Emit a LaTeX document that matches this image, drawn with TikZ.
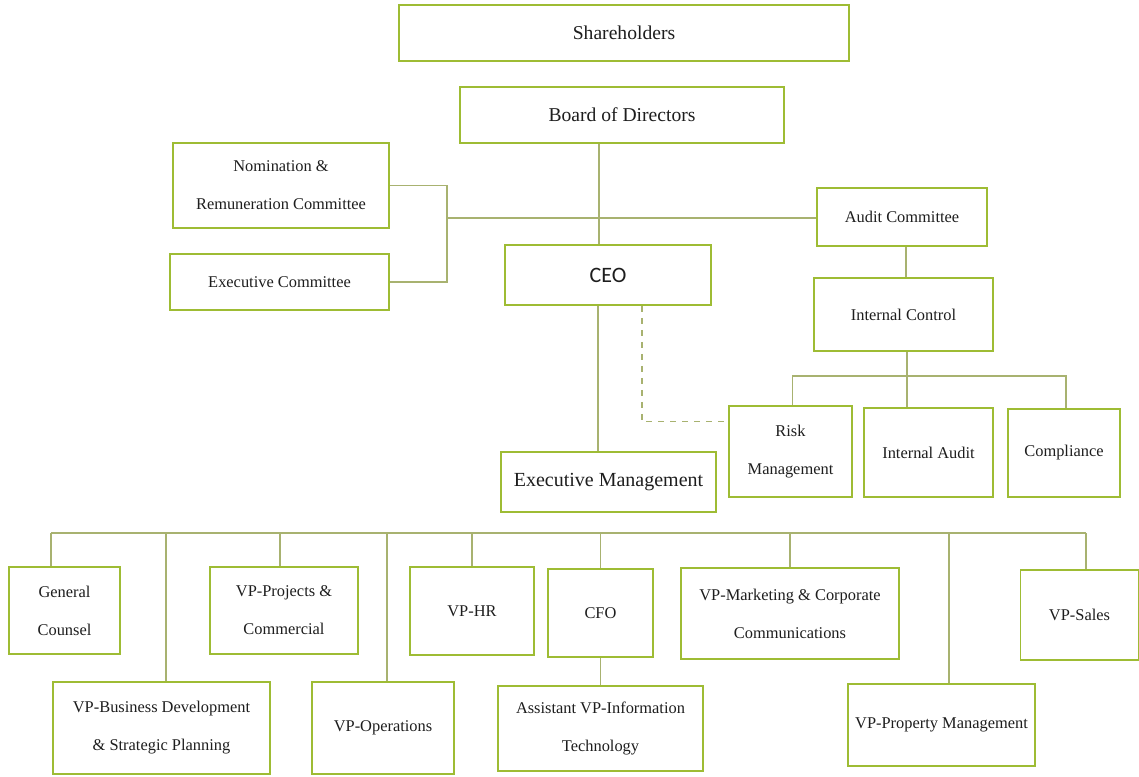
\documentclass[tikz,border=0pt]{standalone}
\usepackage{fontspec}
\setmainfont{Liberation Serif}
\newfontfamily\ceofont{Carlito}
\usepackage{tikz}

\definecolor{boxgreen}{RGB}{158,188,52}
\definecolor{lineolive}{RGB}{168,178,112}
\definecolor{inkgrey}{RGB}{30,30,30}

\begin{document}
\begin{tikzpicture}[x=0.5pt,y=-0.5pt]
            \tikzstyle{unit}=[draw=boxgreen,line width=0.9pt,fill=white,text=inkgrey,align=center,inner sep=1pt,font=\fontsize{8.2}{19}\selectfont]
            \tikzstyle{topunit}=[unit,font=\fontsize{9.8}{19}\selectfont]
            \tikzstyle{link}=[draw=lineolive,line width=0.7pt]
            \useasboundingbox (0,0) rectangle (1139,776);
            % governance
            \node[topunit,minimum width=225pt,minimum height=28pt] (share) at (624,33) {Shareholders};
            \node[topunit,minimum width=162pt,minimum height=28pt] (board) at (622,115) {Board of Directors};
            \node[unit,minimum width=108pt,minimum height=42.5pt] (nrc) at (281,185.5) {Nomination \&\\Remuneration Committee};
            \node[unit,minimum width=109.5pt,minimum height=28pt] (excom) at (279.5,282) {Executive Committee};
            \node[unit,minimum width=103pt,minimum height=30pt,font=\ceofont\fontsize{11}{13}\selectfont] (ceo) at (608,275) {CEO};
            \node[unit,minimum width=85pt,minimum height=29pt] (audit) at (902,217) {Audit Committee};
            \node[unit,minimum width=89.5pt,minimum height=36.5pt] (ictrl) at (903.5,314.5) {Internal Control};
            \node[unit,minimum width=61.5pt,minimum height=45.5pt] (risk) at (790.5,451.5) {Risk\\Management};
            \node[unit,minimum width=64.5pt,minimum height=44.5pt] (iaudit) at (928.5,452.5) {Internal Audit};
            \node[unit,minimum width=56pt,minimum height=44pt] (compl) at (1064,453) {Compliance};
            \node[unit,minimum width=107.5pt,minimum height=30pt,font=\fontsize{10}{13}\selectfont] (exmgmt) at (608.5,482) {Executive Management};
            % executive management
            \node[unit,minimum width=55.5pt,minimum height=43.5pt] (counsel) at (64.5,610.5) {General\\Counsel};
            \node[unit,minimum width=108.5pt,minimum height=46pt] (vpbd) at (161.5,728) {VP-Business Development\\\& Strategic Planning};
            \node[unit,minimum width=74pt,minimum height=43.5pt] (vpproj) at (284,610.5) {VP-Projects \&\\Commercial};
            \node[unit,minimum width=71pt,minimum height=46pt] (vpops) at (383,728) {VP-Operations};
            \node[unit,minimum width=62pt,minimum height=44pt] (vphr) at (472,611) {VP-HR};
            \node[unit,minimum width=52.5pt,minimum height=44pt] (cfo) at (600.5,613) {CFO};
            \node[unit,minimum width=102.5pt,minimum height=42.5pt] (avpit) at (600.5,728.5) {Assistant VP-Information\\Technology};
            \node[unit,minimum width=109pt,minimum height=45.5pt] (vpmkt) at (790,613.5) {VP-Marketing \& Corporate\\Communications};
            \node[unit,minimum width=93.5pt,minimum height=41pt] (vpprop) at (941.5,725) {VP-Property Management};
            \node[unit,minimum width=59pt,minimum height=45pt] (vpsales) at (1079.5,615) {VP-Sales};
            % connectors
            \coordinate (brk) at (447,218);
            \coordinate (icbus) at (907,376);
            \coordinate (bus) at (0,533);
            \draw[link] ([xshift=-4.5pt]ceo.north) -- ([xshift=-4.5pt]ceo.north |- board.south);
            \draw[link] (nrc.east) -| (brk) |- (excom.east);
            \draw[link] (brk) -- (brk -| audit.west);
            \draw[link] ([xshift=2pt]audit.south) -- ([xshift=2pt]audit.south |- ictrl.north);
            \draw[link] (icbus |- ictrl.south) -- (icbus) -- (icbus |- iaudit.north);
            \draw[link] ([xshift=1pt]risk.north) |- (icbus) -| ([xshift=1pt]compl.north);
            \draw[link,dashed,dash pattern=on 3pt off 3pt] ([xshift=17pt]ceo.south) |- ([yshift=15pt]risk.west);
            \draw[link] ([xshift=-5pt]ceo.south) -- ([xshift=-5pt]ceo.south |- exmgmt.north);
            \draw[link] ([xshift=-6.75pt]counsel.north |- bus) -- ([xshift=3.25pt]vpsales.north |- bus);
            \foreach \n/\dx in {counsel/-6.75,vpbd/2.25,vpproj/-2,vpops/2,vphr/0,cfo/0,vpmkt/0,vpprop/3.75,vpsales/3.25}
                \draw[link] ([xshift=\dx pt]\n.north) -- ([xshift=\dx pt]\n.north |- bus);
            \draw[link] (cfo.south) -- (avpit.north);
        \end{tikzpicture}
\end{document}
